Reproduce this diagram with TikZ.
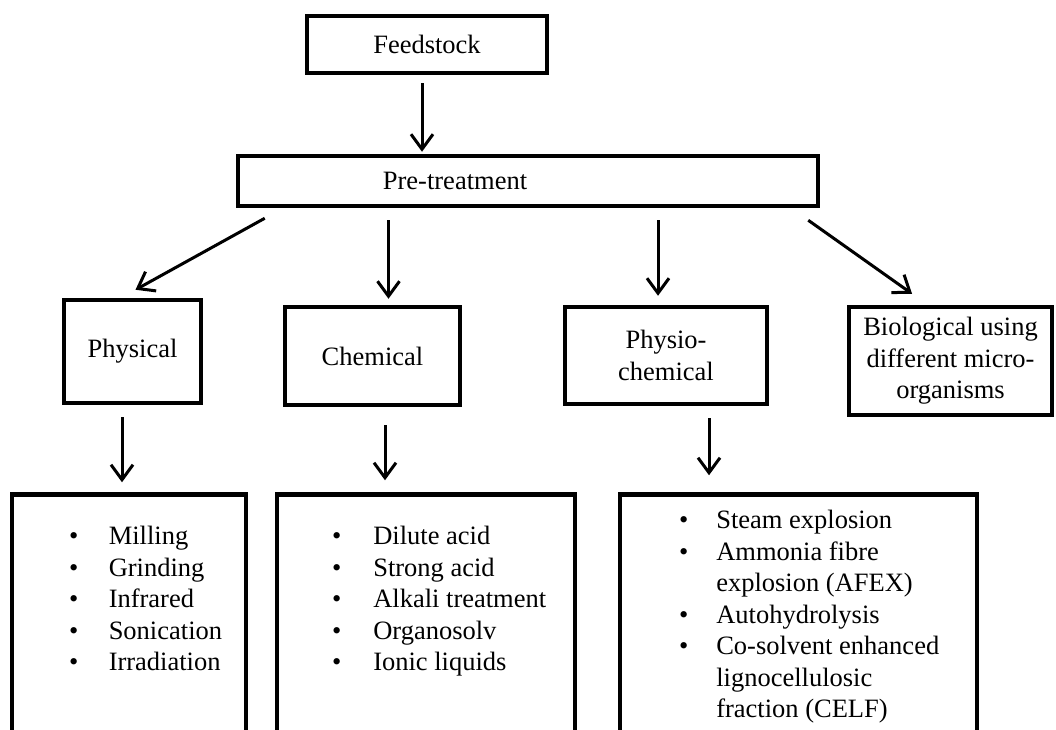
\documentclass[tikz,border=0pt]{standalone}
\usepackage{fontspec}
\setmainfont{Liberation Serif}
\usetikzlibrary{positioning,calc,arrows.meta}
\newcommand{\diafont}{\fontsize{26.5}{31.5}\selectfont}
\tikzset{
  pointer/.style={-{Straight Barb[length=15pt,width=22pt]}, draw, black, line width=3pt},
}

\begin{document}
\begin{tikzpicture}[x=1pt,y=-1pt,
            box/.style={rectangle,draw=black,line width=4.5pt,inner sep=0pt,align=center,font=\diafont},
            listbox/.style={box,anchor=north,align=left}]
            \clip (0,0) rectangle (1056,729);

            \node[box, minimum width=240pt, minimum height=57pt] (feed) at (427,44.5) {Feedstock};
            \node[box, minimum width=580pt, minimum height=50pt] (pre) at (528,181) {Pre-treatment\hspace*{146pt}};

            \node[box, minimum width=137pt, minimum height=103pt] (phys) at (132.5,351.5) {Physical};
            \node[box, minimum width=175pt, minimum height=98pt] (chem) at (372.5,356) {Chemical};
            \node[box, minimum width=202pt, minimum height=97pt] (physio) at (666,355.5) {Physio-\\chemical};
            \node[box, minimum width=203pt, minimum height=108pt] (bio) at (950.5,361) {Biological using\\different micro-\\organisms};

            \node[listbox] (physlist) at (129,492.25) {\parbox[c][260pt][t]{234pt}{\vspace*{28pt}\hspace*{57pt}%
                \begin{tabular}[t]{@{}l@{\hspace{30.5pt}}l@{}}
                    \textbullet & Milling \\
                    \textbullet & Grinding \\
                    \textbullet & Infrared \\
                    \textbullet & Sonication \\
                    \textbullet & Irradiation \\
                \end{tabular}}};
            \node[listbox] (chemlist) at (426,492.25) {\parbox[c][260pt][t]{298pt}{\vspace*{28pt}\hspace*{55pt}%
                \begin{tabular}[t]{@{}l@{\hspace{32pt}}l@{}}
                    \textbullet & Dilute acid \\
                    \textbullet & Strong acid \\
                    \textbullet & Alkali treatment \\
                    \textbullet & Organosolv \\
                    \textbullet & Ionic liquids \\
                \end{tabular}}};
            \node[listbox] (physiolist) at (798.5,492.25) {\parbox[c][260pt][t]{357pt}{\vspace*{12pt}\hspace*{59pt}%
                \begin{tabular}[t]{@{}l@{\hspace{28pt}}l@{}}
                    \textbullet & Steam explosion \\
                    \textbullet & Ammonia fibre \\
                                & explosion (AFEX) \\
                    \textbullet & Autohydrolysis \\
                    \textbullet & Co-solvent enhanced \\
                                & lignocellulosic \\
                                & fraction (CELF) \\
                \end{tabular}}};

            \draw [pointer] ($(feed.south)+(-5,8)$) to ($(feed.south |- pre.north)+(-5,-2)$);
            \draw [pointer] ($(pre.south west)+(29,10)$) to ($(phys.north)+(3,-8)$);
            \draw [pointer] ($(pre.south -| chem.north)+(16,12)$) to ($(chem.north)+(16,-6)$);
            \draw [pointer] ($(pre.south -| physio.north)+(-8,12)$) to ($(physio.north)+(-8,-9)$);
            \draw [pointer] ($(pre.south east)+(-12,12)$) to ($(bio.north)+(-38.5,-11)$);

            \draw [pointer] ($(phys.south)+(-10.5,12)$) to ($(phys.south |- physlist.north)+(-10.5,-10)$);
            \draw [pointer] ($(chem.south)+(12.5,18)$) to ($(chem.south |- chemlist.north)+(12.5,-12)$);
            \draw [pointer] ($(physio.south)+(43,12)$) to ($(physio.south |- physiolist.north)+(43,-17)$);

         \end{tikzpicture}
\end{document}
